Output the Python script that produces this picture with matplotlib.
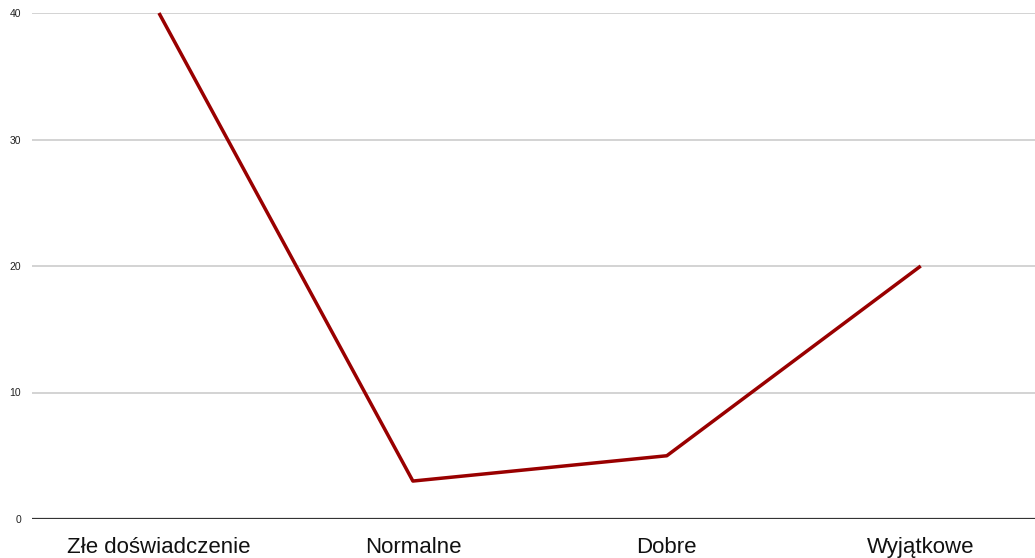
import matplotlib
matplotlib.use("Agg")
import matplotlib.pyplot as plt

plt.rcParams['font.family'] = ['Liberation Sans', 'DejaVu Sans']

categories = ["Złe doświadczenie", "Normalne", "Dobre", "Wyjątkowe"]
values = [40, 3, 5, 20]
y_ticks = [0, 10, 20, 30, 40]

fig = plt.figure(figsize=(10.35, 5.58), dpi=100)
ax = fig.add_axes([32 / 1035, 39 / 558, 1 - 32 / 1035, (519 - 13) / 558])

x = list(range(len(categories)))
ax.plot(x, values, color='#990000', linewidth=2.5, solid_capstyle='butt', zorder=3, clip_on=False)

ax.set_xlim(-0.5, 3.45)
ax.set_ylim(0, 40)
ax.set_yticks(y_ticks)
ax.set_yticklabels([str(t) for t in y_ticks], fontsize=7.5, color='#222222')
ax.set_xticks(x)
ax.set_xticklabels(categories, fontsize=16, color='#111111')
ax.tick_params(axis='both', length=0)
ax.tick_params(axis='y', pad=8)
ax.tick_params(axis='x', pad=13)

for t in y_ticks[1:]:
    ax.axhline(t, color='#cccccc', linewidth=1.2, zorder=1)
ax.axhline(0, color='#333333', linewidth=1.6, zorder=2)

for s in ax.spines.values():
    s.set_visible(False)

fig.savefig("out.png", dpi=100)
